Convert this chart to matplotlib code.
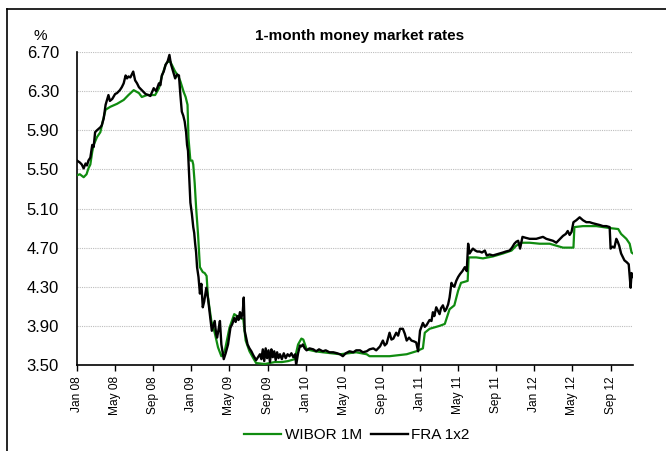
import matplotlib
matplotlib.use("Agg")
import matplotlib.pyplot as plt
from matplotlib import font_manager
from matplotlib.lines import Line2D

# ---------------- data (x = months since Jan 2008) ----------------
fra_m = [0.0, 0.3, 0.5, 0.7, 0.9, 1.05, 1.2, 1.4, 1.6, 1.75, 1.9, 2.1, 2.45, 2.6, 2.8, 3.0, 3.15, 3.3,
         3.45, 3.7, 4.0, 4.2, 4.5, 4.7, 4.9, 5.1, 5.25, 5.4, 5.6, 5.9, 6.1, 6.3, 6.5, 6.8, 7.0, 7.2,
         7.5, 7.7, 8.05, 8.3, 8.6, 8.75, 8.9, 9.1, 9.3, 9.5, 9.7, 9.85, 10.0, 10.15, 10.3, 10.5, 10.7,
         10.85, 11.0, 11.15, 11.3, 11.45, 11.55, 11.65, 11.8, 11.9, 12.05, 12.2, 12.3, 12.4, 12.5,
         12.6, 12.75, 12.9, 13.05, 13.2, 13.35, 13.57, 13.75, 13.9, 14.0, 14.15, 14.3, 14.45, 14.6,
         14.7, 14.85, 15.0, 15.15, 15.3, 15.4, 15.6, 15.85, 16.1, 16.3, 16.5, 16.65, 16.8, 16.95,
         17.1, 17.25, 17.4, 17.5, 17.6, 17.75, 17.9, 18.1, 18.3, 18.5, 18.8, 19.0, 19.2, 19.35, 19.5,
         19.65, 19.8, 19.95, 20.1, 20.25, 20.4, 20.55, 20.7, 20.85, 21.0, 21.15, 21.3, 21.5, 21.7,
         21.9, 22.1, 22.3, 22.5, 22.7, 22.9, 23.0, 23.2, 23.4, 23.55, 23.7, 23.9, 24.1, 24.4, 24.8,
         25.1, 25.4, 25.8, 26.1, 26.5, 26.9, 27.3, 27.6, 27.9, 28.2, 28.6, 29.0, 29.3, 29.7, 30.0,
         30.4, 30.7, 31.1, 31.4, 31.8, 32.1, 32.3, 32.5, 32.8, 33.0, 33.2, 33.5, 33.7, 33.9, 34.2,
         34.4, 34.6, 34.85, 35.1, 35.4, 35.6, 35.8, 36.0, 36.3, 36.5, 36.7, 37.0, 37.2, 37.35, 37.5,
         37.7, 37.9, 38.05, 38.2, 38.4, 38.6, 38.75, 38.95, 39.1, 39.3, 39.45, 39.6, 39.8, 40.0,
         40.2, 40.45, 40.7, 40.9, 41.05, 41.2, 41.4, 41.55, 41.8, 42.0, 42.25, 42.5, 42.8, 43.0,
         43.3, 43.65, 44.0, 44.35, 44.7, 45.0, 45.4, 45.65, 45.9, 46.1, 46.3, 46.5, 46.75, 47.1,
         47.5, 47.85, 48.2, 48.55, 48.9, 49.25, 49.6, 49.95, 50.3, 50.6, 51.0, 51.3, 51.5, 51.7,
         51.9, 52.1, 52.4, 52.75, 53.1, 53.45, 53.8, 54.1, 54.5, 54.9, 55.2, 55.55, 55.9, 56.0,
         56.2, 56.4, 56.6, 56.75, 56.9, 57.1, 57.3, 57.45, 57.7, 57.9, 58.1, 58.2, 58.3]
fra_v = [5.59, 5.57, 5.55, 5.51, 5.56, 5.54, 5.59, 5.62, 5.75, 5.73, 5.88, 5.90, 5.93, 5.95, 6.02, 6.16,
         6.21, 6.26, 6.20, 6.22, 6.27, 6.28, 6.31, 6.34, 6.38, 6.46, 6.43, 6.45, 6.44, 6.50, 6.41, 6.38,
         6.34, 6.31, 6.29, 6.27, 6.26, 6.25, 6.33, 6.30, 6.38, 6.36, 6.46, 6.50, 6.57, 6.60, 6.67, 6.58,
         6.53, 6.48, 6.43, 6.47, 6.46, 6.26, 6.09, 6.05, 5.99, 5.88, 5.75, 5.69, 5.36, 5.16, 5.05, 4.91,
         4.85, 4.74, 4.65, 4.50, 4.40, 4.23, 4.33, 4.09, 4.15, 4.29, 4.18, 4.05, 3.97, 3.85, 3.90, 3.95,
         3.82, 3.78, 3.86, 3.95, 3.71, 3.62, 3.56, 3.62, 3.71, 3.88, 3.92, 3.98, 3.94, 4.00, 3.96, 4.04,
         3.98, 4.05, 4.19, 3.85, 3.78, 3.71, 3.67, 3.64, 3.60, 3.55, 3.58, 3.61, 3.56, 3.66, 3.54, 3.67,
         3.57, 3.65, 3.53, 3.66, 3.58, 3.64, 3.55, 3.63, 3.57, 3.61, 3.56, 3.62, 3.57, 3.61, 3.59, 3.62,
         3.58, 3.61, 3.50, 3.62, 3.70, 3.69, 3.71, 3.67, 3.65, 3.67, 3.66, 3.64, 3.66, 3.64, 3.65, 3.63,
         3.63, 3.62, 3.61, 3.59, 3.62, 3.64, 3.63, 3.65, 3.65, 3.63, 3.64, 3.66, 3.67, 3.65, 3.69, 3.75,
         3.70, 3.72, 3.83, 3.76, 3.77, 3.83, 3.80, 3.87, 3.87, 3.82, 3.75, 3.78, 3.75, 3.74, 3.73, 3.64,
         3.85, 3.93, 3.89, 3.91, 3.96, 3.95, 4.04, 4.00, 4.09, 4.05, 4.02, 4.08, 4.11, 4.05, 4.07, 4.12,
         4.19, 4.34, 4.31, 4.30, 4.36, 4.40, 4.43, 4.46, 4.50, 4.46, 4.74, 4.64, 4.67, 4.69, 4.67, 4.66,
         4.66, 4.65, 4.67, 4.62, 4.63, 4.62, 4.63, 4.64, 4.65, 4.66, 4.67, 4.70, 4.74, 4.76, 4.77, 4.69,
         4.81, 4.80, 4.79, 4.79, 4.79, 4.80, 4.81, 4.79, 4.78, 4.77, 4.75, 4.78, 4.82, 4.84, 4.87, 4.83,
         4.86, 4.96, 4.98, 5.01, 4.98, 4.96, 4.96, 4.95, 4.94, 4.93, 4.92, 4.92, 4.91, 4.69, 4.71, 4.70,
         4.79, 4.76, 4.72, 4.64, 4.60, 4.57, 4.55, 4.53, 4.29, 4.44, 4.40]

wibor_m = [0.0, 0.3, 0.7, 1.0, 1.2, 1.4, 1.6, 1.75, 2.1, 2.45, 2.7, 2.85, 3.0, 3.5, 4.2, 4.9, 5.4, 5.95,
           6.5, 6.8, 7.35, 8.2, 8.6, 8.9, 9.3, 9.5, 9.8, 10.05, 10.3, 10.6, 10.85, 11.2, 11.4, 11.6,
           11.7, 11.9, 12.1, 12.2, 12.35, 12.5, 12.7, 12.9, 13.2, 13.4, 13.6, 13.75, 14.1, 14.45, 14.8,
           15.15, 15.5, 16.0, 16.5, 17.1, 17.45, 17.7, 18.1, 18.5, 18.8, 19.7, 20.75, 21.5, 22.15,
           22.85, 23.2, 23.55, 23.75, 24.1, 25.0, 25.8, 26.7, 27.6, 28.5, 29.3, 30.4, 30.7, 32.8, 34.6,
           35.6, 36.3, 36.5, 37.0, 38.05, 38.6, 38.8, 39.1, 39.6, 40.0, 40.3, 41.0, 41.1, 41.9, 42.6,
           43.65, 44.7, 45.6, 46.1, 46.6, 47.5, 48.55, 49.6, 50.3, 51.0, 52.1, 52.2, 53.1, 54.5, 55.9,
           56.8, 57.1, 57.65, 58.0, 58.2, 58.35]
wibor_v = [5.44, 5.45, 5.42, 5.45, 5.51, 5.55, 5.68, 5.75, 5.83, 5.88, 5.99, 6.05, 6.11, 6.14, 6.17, 6.21,
           6.26, 6.31, 6.28, 6.24, 6.26, 6.26, 6.33, 6.45, 6.57, 6.60, 6.60, 6.55, 6.50, 6.46, 6.40, 6.29,
           6.24, 6.16, 5.82, 5.59, 5.59, 5.55, 5.36, 5.11, 4.84, 4.50, 4.45, 4.44, 4.41, 4.19, 3.95, 3.83,
           3.68, 3.59, 3.64, 3.88, 4.02, 3.98, 3.97, 3.75, 3.64, 3.57, 3.52, 3.51, 3.53, 3.53, 3.54, 3.56,
           3.71, 3.77, 3.76, 3.66, 3.64, 3.63, 3.62, 3.61, 3.62, 3.63, 3.61, 3.59, 3.59, 3.61, 3.64, 3.67,
           3.83, 3.87, 3.90, 3.92, 3.98, 4.07, 4.11, 4.26, 4.34, 4.36, 4.60, 4.60, 4.59, 4.61, 4.64, 4.67,
           4.72, 4.75, 4.75, 4.74, 4.74, 4.72, 4.70, 4.70, 4.91, 4.92, 4.92, 4.90, 4.89, 4.84, 4.79, 4.74,
           4.65, 4.64]

tick_months = [0, 4, 8, 12, 16, 20, 24, 28, 32, 36, 40, 44, 48, 52, 56]
tick_labels = ["Jan 08", "May 08", "Sep 08", "Jan 09", "May 09", "Sep 09", "Jan 10", "May 10",
               "Sep 10", "Jan 11", "May 11", "Sep 11", "Jan 12", "May 12", "Sep 12"]
y_ticks = [3.50, 3.90, 4.30, 4.70, 5.10, 5.50, 5.90, 6.30, 6.70]

title = "1-month money market rates"
series_names = ["WIBOR 1M", "FRA 1x2"]


def have_font(name):
    try:
        font_manager.findfont(font_manager.FontProperties(family=name), fallback_to_default=False)
        return True
    except Exception:
        return False


base = "Liberation Sans" if have_font("Liberation Sans") else "DejaVu Sans"
plt.rcParams["font.family"] = [base, "DejaVu Sans"]

fig = plt.figure(figsize=(6.66, 4.51), dpi=100)
ax = fig.add_axes([77 / 666, 1 - 365 / 451, (633 - 77) / 666, (365 - 52) / 451])

ax.plot(wibor_m, wibor_v, color="#108c10", lw=1.6, label=series_names[0], zorder=3)
ax.plot(fra_m, fra_v, color="black", lw=1.7, label=series_names[1], zorder=4)

ax.set_xlim(0, 58.35)
ax.set_ylim(3.50, 6.70)
ax.set_yticks(y_ticks)
ax.set_yticklabels([f"{v:.2f}" for v in y_ticks], fontsize=12)
ax.set_xticks(tick_months)
ax.set_xticklabels(tick_labels, rotation=90, fontsize=8.6)
ax.tick_params(axis="y", length=0, pad=13)
ax.tick_params(axis="x", length=4, width=1, direction="out", pad=4)

for s in ["top", "right"]:
    ax.spines[s].set_visible(False)
for s in ["left", "bottom"]:
    ax.spines[s].set_linewidth(1.2)
    ax.spines[s].set_color("black")

ax.yaxis.grid(True, linestyle=(0, (1, 1)), color="#bdbdbd", lw=0.8)
ax.set_axisbelow(True)

fig.text(360 / 666, 1 - 40 / 451, title, ha="center", va="baseline",
         fontsize=11, fontweight="bold")
fig.text(40 / 666, 1 - 40 / 451, "%", ha="center", va="baseline", fontsize=11)

leg = fig.legend(loc="center", bbox_to_anchor=(357 / 666, 1 - 435 / 451), ncol=2,
                 frameon=False, fontsize=11, handlelength=2.4, handletextpad=0.25,
                 columnspacing=0.6)

# outer border (top and left edges)
fig.add_artist(Line2D([7 / 666, 1.0], [1 - 9 / 451, 1 - 9 / 451], color="black", lw=1.2,
                      transform=fig.transFigure))
fig.add_artist(Line2D([7 / 666, 7 / 666], [0.0, 1 - 9 / 451], color="black", lw=1.2,
                      transform=fig.transFigure))

fig.savefig("out.png", dpi=100)
